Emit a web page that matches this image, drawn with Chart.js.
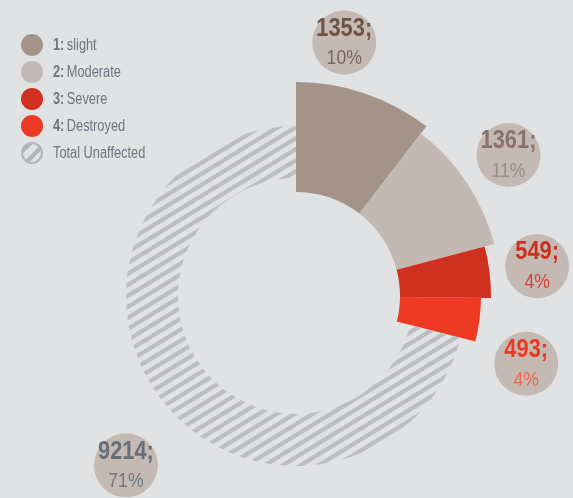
<!DOCTYPE html>
<html>
<head>
<meta charset="utf-8">
<script src="https://cdn.jsdelivr.net/npm/chart.js"></script>
<style>
  html, body { margin: 0; padding: 0; background: #e1e2e4; }
  #wrap { position: relative; width: 573px; height: 498px; }
  #legend { position: absolute; left: 21px; top: 31px;
    font-family: 'Liberation Sans', Arial, sans-serif;
    font-size: 16px; color: #6d7581; }
  .row { height: 27px; display: flex; align-items: center; }
  .sw { width: 22px; height: 22px; border-radius: 50%; margin-right: 10px; box-sizing: border-box; }
  .txt { display: inline-block; transform: scaleX(0.8); transform-origin: left center; white-space: nowrap; }
  .key { font-weight: bold; margin-right: 3px; }
</style>
</head>
<body>
<div id="wrap">
  <canvas id="myChart" width="573" height="498"></canvas>
  <div id="legend"></div>
</div>
<script>
// data
const categories = ['slight', 'Moderate', 'Severe', 'Destroyed', 'Total Unaffected'];
const keys = ['1:', '2:', '3:', '4:', ''];
const counts = [1353, 1361, 549, 493, 9214];
const percentLabels = ['10%', '11%', '4%', '4%', '71%'];

// styles
const colors = ['#a39388', '#c3b9b2', '#cf3020', '#ee3924'];
const numColors = ['#6a5448', '#86746a', '#cd2f1f', '#ea3822', '#646f7a'];
const pctColors = ['#7b675c', '#9a8b83', '#d6412f', '#f0664f', '#6d7782'];
const outerF = [214 / 202, 205 / 202, 195 / 202, 185 / 202, 170 / 202];
const innerF = [104 / 202, 104 / 202, 104 / 202, 104 / 202, 118 / 202];
const labelPos = [[-8, 258], [0, 255], [0, 243], [9, 240], [-7, 240]];

// hatch pattern for the unaffected part
const W = 18, H = 11;
const tile = document.createElement('canvas');
tile.width = W; tile.height = H;
const tc = tile.getContext('2d');
tc.strokeStyle = '#bcbec0';
tc.lineWidth = 4.4;
for (let k = -2; k <= 2; k++) {
  tc.beginPath();
  tc.moveTo(k * W - W, 2 * H);
  tc.lineTo(k * W + 2 * W, -H);
  tc.stroke();
}
const hatch = document.getElementById('myChart').getContext('2d').createPattern(tile, 'repeat');

// legend
const legend = document.getElementById('legend');
for (let i = 0; i < categories.length; i++) {
  const row = document.createElement('div');
  row.className = 'row';
  const sw = document.createElement('div');
  sw.className = 'sw';
  if (i < colors.length) {
    sw.style.background = colors[i];
  } else {
    sw.style.background = 'repeating-linear-gradient(135deg, #e1e2e4 0 3px, #b3b5b7 3px 7px, #e1e2e4 7px 10px)';
    sw.style.border = '2px solid #b3b5b7';
  }
  row.appendChild(sw);
  const txt = document.createElement('span');
  txt.className = 'txt';
  if (keys[i]) {
    const k = document.createElement('span');
    k.className = 'key';
    k.textContent = keys[i];
    txt.appendChild(k);
  }
  txt.appendChild(document.createTextNode(categories[i]));
  row.appendChild(txt);
  legend.appendChild(row);
}

// give each slice its own radius, then draw the value bubbles
const shapePlugin = {
  id: 'shape',
  afterDatasetsUpdate(chart) {
    const meta = chart.getDatasetMeta(0);
    const R = meta.controller.outerRadius;
    meta.data.forEach((el, i) => {
      el.outerRadius = R * outerF[i];
      el.innerRadius = R * innerF[i];
    });
  },
  afterDraw(chart) {
    const ctx = chart.ctx;
    const meta = chart.getDatasetMeta(0);
    const font = "'Liberation Sans', Arial, sans-serif";
    meta.data.forEach((el, i) => {
      const a = (el.startAngle + el.endAngle) / 2 + labelPos[i][0] * Math.PI / 180;
      const x = el.x + labelPos[i][1] * Math.cos(a);
      const y = el.y + labelPos[i][1] * Math.sin(a);
      ctx.save();
      ctx.fillStyle = '#c4bab3';
      ctx.beginPath();
      ctx.arc(x, y, 32, 0, Math.PI * 2);
      ctx.fill();
      ctx.translate(x, y);
      ctx.scale(0.84, 1);
      ctx.textAlign = 'center';
      ctx.textBaseline = 'middle';
      ctx.fillStyle = numColors[i];
      ctx.font = 'bold 26px ' + font;
      ctx.fillText(counts[i] + ';', 0, -14);
      ctx.fillStyle = pctColors[i];
      ctx.font = '21px ' + font;
      ctx.fillText(percentLabels[i], 0, 16);
      ctx.restore();
    });
  }
};

new Chart(document.getElementById('myChart'), {
  type: 'doughnut',
  data: {
    labels: categories,
    datasets: [{
      data: counts,
      backgroundColor: colors.concat([hatch]),
      borderWidth: 0,
      clip: false
    }]
  },
  options: {
    responsive: false,
    animation: false,
    events: [],
    layout: { padding: { left: 94, right: 75, top: 94, bottom: 0 } },
    plugins: { legend: { display: false }, tooltip: { enabled: false } }
  },
  plugins: [shapePlugin]
});
</script>
</body>
</html>
